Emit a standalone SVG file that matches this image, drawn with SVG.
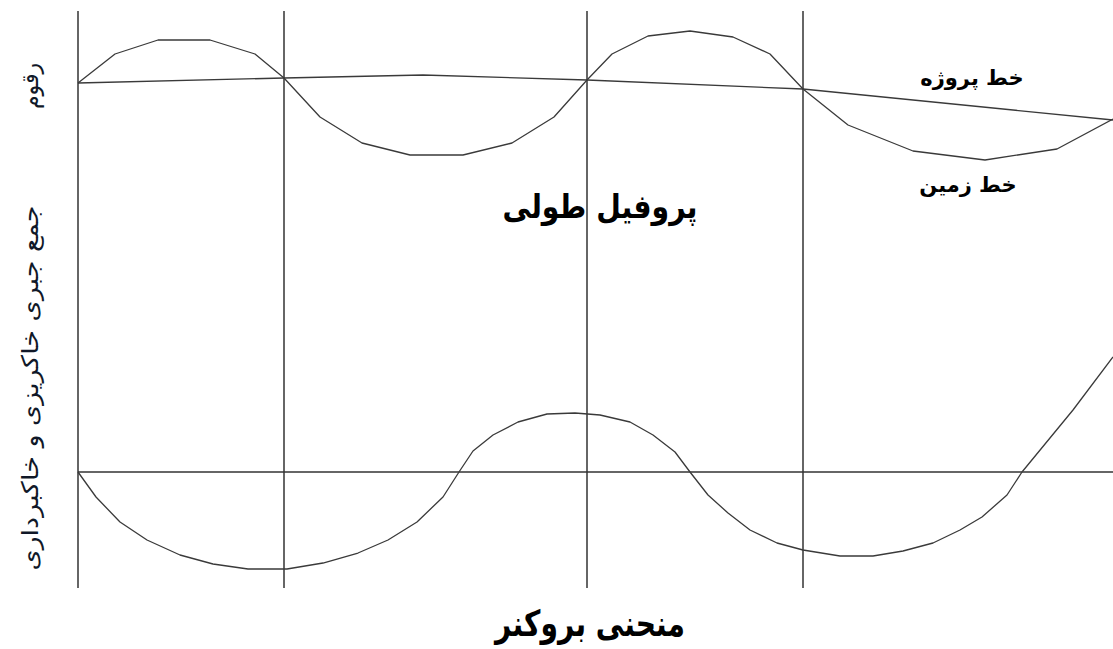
<svg xmlns="http://www.w3.org/2000/svg" width="1113" height="649" viewBox="0 0 1113 649">
<style>
.grid{stroke:#333;stroke-width:1.5;fill:none}
.curve{stroke:#3a3a3a;stroke-width:1.3;fill:none;stroke-linejoin:round}
.lbl{font-family:"DejaVu Sans",sans-serif;fill:#000;font-weight:bold}
.side{font-family:"DejaVu Sans",sans-serif;fill:#101828}
</style>
<rect width="1113" height="649" fill="#fff"/>
<g id="grid">
<line class="grid" x1="78" y1="11" x2="78" y2="588"/>
<line class="grid" x1="284" y1="11" x2="284" y2="588"/>
<line class="grid" x1="587" y1="11" x2="587" y2="588"/>
<line class="grid" x1="803" y1="11" x2="803" y2="588"/>
<line class="grid" x1="78" y1="472" x2="1113" y2="472"/>
</g>
<g id="connectors">
<polyline id="project-line" class="curve" points="78,83 284,78 423,75 587,80 803,89 1113,120"/>
<polyline id="ground-line" class="curve" points="78,83 115,54 158,40 210,40 255,54 284,78 320,117 362,143 410,155 463,155 512,143 554,117 587,80 612,54 648,36 690,31 733,37 770,54 803,89 848,125 913,151 985,160 1057,149 1113,119"/>
<polyline id="mass-curve" class="curve" points="78,472 96,497 120,522 147,540 180,555 213,564 248,569 287,569 323,563 358,553 388,540 417,522 443,497 459,472 473,451 493,435 518,422 547,414 575,413 600,415 630,422 653,435 675,452 690,472 708,495 728,513 750,530 777,543 803,550 840,556 873,556 903,551 933,543 960,530 982,517 1007,495 1022,472 1073,410 1113,357"/>
</g>
<g id="label-raghoom"><text class="side" font-size="23" transform="translate(38,86) rotate(-90)" text-anchor="middle" textLength="46" lengthAdjust="spacingAndGlyphs">رقوم</text></g>
<g id="label-mass"><text class="side" font-size="23" transform="translate(38,388) rotate(-90)" text-anchor="middle" textLength="365" lengthAdjust="spacingAndGlyphs">جمع جبری خاکریزی و خاکبرداری</text></g>
<g id="label-project"><text class="lbl" font-size="21" x="972" y="85" text-anchor="middle">خط پروژه</text></g>
<g id="label-ground"><text class="lbl" font-size="21" x="968" y="192" text-anchor="middle">خط زمین</text></g>
<g id="title-profile"><text class="lbl" font-size="33" x="600" y="218" text-anchor="middle" textLength="195" lengthAdjust="spacingAndGlyphs">پروفیل  طولی</text></g>
<g id="title-bruckner"><text class="lbl" font-size="36" x="590" y="636" text-anchor="middle" textLength="190" lengthAdjust="spacingAndGlyphs">منحنی بروکنر</text></g>
</svg>
